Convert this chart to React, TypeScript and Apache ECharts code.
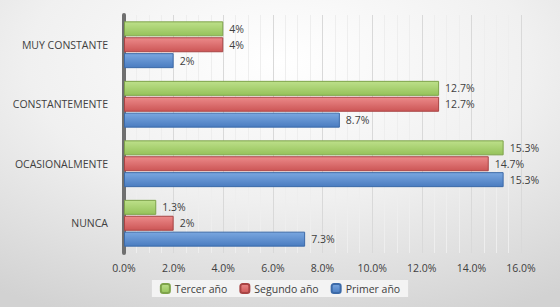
import React, { useEffect, useRef } from "react";
import * as echarts from "echarts";

const categories = ["NUNCA", "OCASIONALMENTE", "CONSTANTEMENTE", "MUY CONSTANTE"];
const primerAno = [7.3, 15.3, 8.7, 2];
const segundoAno = [2, 14.7, 12.7, 4];
const tercerAno = [1.3, 15.3, 12.7, 4];
const legendOrder = ["Tercer año", "Segundo año", "Primer año"];

const FONT = "'Open Sans', 'Noto Sans', sans-serif";

function grad(light: string, dark: string) {
  return new echarts.graphic.LinearGradient(0, 0, 0, 1, [
    { offset: 0, color: light },
    { offset: 1, color: dark },
  ]);
}

export default function App() {
  const ref = useRef<HTMLDivElement>(null);
  useEffect(() => {
    if (!ref.current) return;
    const chart = echarts.init(ref.current, null, { renderer: "svg" });
    const label = {
      show: true,
      position: "right" as const,
      distance: 6,
      color: "#404040",
      fontSize: 10.5,
      fontFamily: FONT,
      formatter: (p: any) => p.value + "%",
    };
    const mk = (name: string, data: number[], light: string, dark: string, border: string) => ({
      name,
      type: "bar",
      data,
      barWidth: 15,
      barGap: "6%",
      label,
      itemStyle: { color: grad(light, dark), borderColor: border, borderWidth: 1 },
    });
    chart.setOption({
      animation: false,
      backgroundColor: new echarts.graphic.RadialGradient(0.5, 0.2, 0.9, [
        { offset: 0, color: "#ffffff" },
        { offset: 0.5, color: "#f0f0f0" },
        { offset: 1, color: "#d2d2d2" },
      ]),
      grid: { left: 124, right: 39, top: 15, bottom: 54, containLabel: false },
      legend: {
        data: legendOrder,
        top: 280,
        left: "center",
        itemWidth: 9,
        itemHeight: 9,
        itemGap: 12,
        padding: [3, 8],
        backgroundColor: "rgba(245,245,245,0.9)",
        textStyle: { color: "#404040", fontSize: 10.5, fontFamily: FONT },
      },
      xAxis: {
        type: "value",
        min: 0,
        max: 16,
        interval: 2,
        axisLabel: {
          color: "#404040",
          fontSize: 10.5,
          fontFamily: FONT,
          margin: 9,
          formatter: (v: number) => v.toFixed(1) + "%",
        },
        axisLine: { show: false },
        axisTick: { show: false },
        splitLine: { show: true, lineStyle: { color: "#d9d9d9", width: 1 } },
        minorTick: { show: false, splitNumber: 4 },
        minorSplitLine: { show: true, lineStyle: { color: "#eeeeee", width: 1 } },
      },
      yAxis: {
        type: "category",
        data: categories,
        axisLabel: { color: "#404040", fontSize: 10.5, fontFamily: FONT, margin: 16 },
        axisLine: { show: true, lineStyle: { color: "#6f6f6f", width: 4 } },
        axisTick: { show: false },
        splitLine: { show: false },
      },
      series: [
        mk("Tercer año", tercerAno, "#bde08a", "#95c25a", "#7ea34a"),
        mk("Segundo año", segundoAno, "#ec8a8a", "#cc5656", "#a84444"),
        mk("Primer año", primerAno, "#7aa7e0", "#4a7cc0", "#3c6aa8"),
      ],
    });
    return () => chart.dispose();
  }, []);
  return (
    <div
      ref={ref}
      style={{ position: "absolute", left: 0, top: 0, width: 560, height: 307 }}
    />
  );
}
